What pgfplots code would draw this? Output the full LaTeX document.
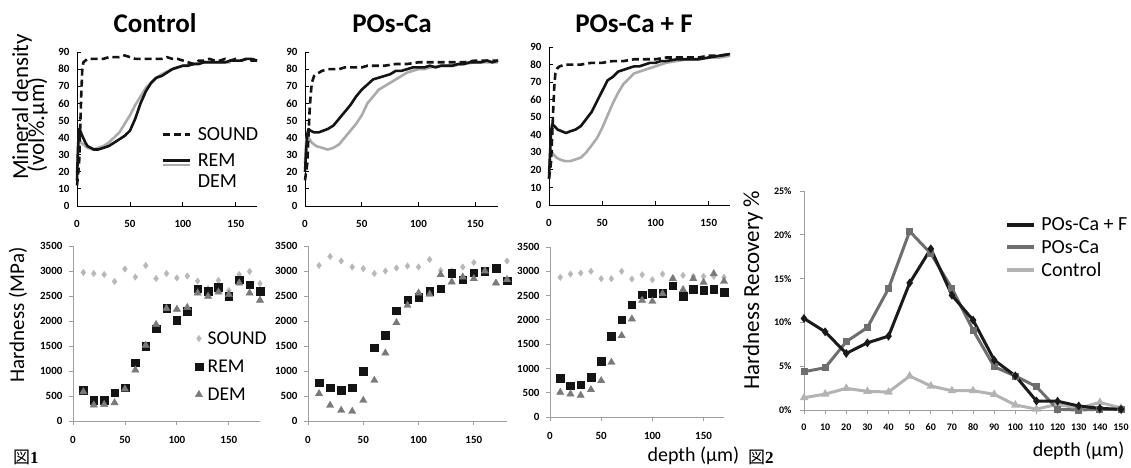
\documentclass[border=0pt]{standalone}
\usepackage{fontspec}
\setmainfont{Carlito}
\newfontfamily\cjk{Noto Sans CJK JP}
\newfontfamily\tms{Liberation Serif}
\usepackage{pgfplots}
\pgfplotsset{compat=1.18}

\newcommand{\fs}[2]{\fontsize{#1}{#2}\selectfont}

\definecolor{dk}{HTML}{141414}
\definecolor{demC}{HTML}{ABABAB}
\definecolor{diaC}{HTML}{B8B8B8}
\definecolor{triC}{HTML}{7A7A7A}
\definecolor{rA}{HTML}{1A1A1A}
\definecolor{rB}{HTML}{6E6E6E}
\definecolor{rC}{HTML}{B3B3B3}

\pgfplotsset{
  base/.style={
    scale only axis, axis lines*=left, clip=false,
    /pgf/number format/assume math mode=true,
    /pgf/number format/1000 sep={},
    ticklabel style={font=\bfseries\fs{11}{13}},
  },
  topax/.style={base,
    xmin=0, xmax=170, ymin=0, ymax=90,
    xtick={0,50,100,150}, ytick={0,10,...,90},
    tick align=inside, major tick length=4pt,
    axis line style={black, line width=0.9pt},
    tick style={black, line width=0.8pt},
    xticklabel style={yshift=-11pt},
    yticklabel style={xshift=-4pt},
  },
  botax/.style={base,
    xmin=0, ymin=0, ymax=3500,
    xtick={0,50,100,150}, ytick={0,500,...,3500},
    tick align=outside, major tick length=4pt,
    axis line style={gray!75, line width=0.9pt},
    tick style={gray!75, line width=0.8pt},
    xticklabel style={yshift=-8pt},
    yticklabel style={xshift=-3pt},
  },
  mdsound/.style={dk, line width=2.6pt, dash pattern=on 7pt off 4pt},
  mdrem/.style={dk, line width=2.6pt, line join=round},
  mddem/.style={demC, line width=2.6pt, line join=round},
  sdia/.style={only marks, mark=diamond*, mark size=3.2pt, diaC},
  srem/.style={only marks, mark=square*, mark size=3.8pt, dk},
  stri/.style={only marks, mark=triangle*, mark size=4.2pt, triC},
  linelegend/.style={legend image code/.code={\draw[##1] (0pt,0pt) -- (27pt,0pt);}},
}

\begin{document}
\begin{tikzpicture}
\path[use as bounding box] (0,0) rectangle (1131pt,-467pt);

% ---------- titles and labels ----------
\node[font=\bfseries\fs{27}{30}, anchor=base] at (155pt,-32pt) {Control};
\node[font=\bfseries\fs{27}{30}, anchor=base] at (392pt,-32pt) {POs-Ca};
\node[font=\bfseries\fs{27}{30}, anchor=base] at (634pt,-32pt) {POs-Ca + F};

\node[rotate=90, anchor=base, font=\fs{23}{26}] at (28pt,-107pt) {Mineral density};
\node[rotate=90, anchor=base, font=\fs{23}{26}] at (44pt,-125pt) {(vol\%.µm)};
\node[rotate=90, anchor=base, font=\fs{21}{24}] at (24pt,-315pt) {Hardness (MPa)};
\node[rotate=90, anchor=base, font=\fs{23}{26}] at (759pt,-290pt) {Hardness Recovery \%};

\node[anchor=base west, font=\fs{20}{24}] at (644pt,-461pt) {depth (µm)};
\node[anchor=base east, font=\fs{20}{24}] at (1128pt,-456pt) {depth (µm)};
\node[anchor=base west, inner sep=0pt, font=\fs{17}{20}] at (13pt,-463pt) {{\cjk 図}{\tms\bfseries 1}};
\node[anchor=base west, inner sep=0pt, font=\fs{17}{20}] at (748pt,-463pt) {{\cjk 図}{\tms\bfseries 2}};

% ---------- top row: mineral density ----------
\begin{axis}[topax, at={(77pt,-206pt)}, anchor=south west, width=180pt, height=154pt,
  linelegend, legend cell align=left,
  legend style={at={(0.45,0.537)}, anchor=north west, draw=none, fill=none,
    font=\fs{20}{22}, row sep=2.5pt, /tikz/every odd column/.append style={column sep=5pt}}]
\addlegendimage{dk, line width=2.6pt, dash pattern=on 7pt off 4pt}\addlegendentry{SOUND}
\addlegendimage{legend image code/.code={
  \draw[dk, line width=2.6pt] (0pt,-2.5pt) -- (27pt,-2.5pt);
  \draw[demC, line width=2pt] (0pt,-6.5pt) -- (27pt,-6.5pt);}}
\addlegendentry{\raisebox{0pt}[18pt][0pt]{REM}}
\addlegendimage{legend image code/.code={}}\addlegendentry{DEM}
\addplot[mddem] coordinates {(0,20)(1,32)(2,38)(4,37)(6,36)(10,34)(15,33)(20,34)(25,35)(30,37)(35,40)(40,43)(45,48)(50,53)(55,59)(60,64)(65,69)(70,72)(75,75)(80,77)(90,80)(100,82)(110,83)(120,84)(130,84)(140,84)(145,84)};
\addplot[mdrem] coordinates {(0,15)(1,35)(2,45)(3,44)(5,41)(8,37)(10,35)(13,34)(16,33)(20,33)(25,34)(30,35)(35,37)(40,39)(45,41)(50,44)(55,51)(60,60)(65,67)(70,72)(75,75)(80,76)(85,78)(90,80)(95,81)(100,82)(105,82)(110,83)(115,83)(120,84)(125,84)(130,84)(135,84)(140,84)(145,85)(150,85)(155,85)(160,86)(165,86)(170,85)};
\addplot[mdsound] coordinates {(0,12)(2,25)(3,45)(4,65)(5,80)(6,84)(8,85)(10,86)(15,86)(20,86)(25,86)(30,87)(35,87)(40,87)(45,88)(50,87)(55,86)(60,86)(65,86)(70,86)(75,86)(80,86)(85,87)(90,86)(95,86)(100,85)(105,84)(110,83)(115,85)(120,85)(125,86)(130,85)(135,85)(140,86)(145,85)(150,86)(155,85)(160,86)(165,85)(170,85)};
\end{axis}

\begin{axis}[topax, at={(305pt,-206pt)}, anchor=south west, width=193pt, height=154pt]
\addplot[mddem] coordinates {(0,25)(1,38)(2,41)(4,39)(6,37)(10,35)(15,34)(20,33)(25,34)(30,36)(35,40)(40,44)(45,48)(50,53)(55,60)(60,64)(65,68)(70,70)(75,72)(80,74)(85,76)(90,78)(95,79)(100,80)(105,80)(110,81)(120,82)(130,82)(140,83)(150,84)(160,84)(170,84)};
\addplot[mdrem] coordinates {(0,20)(1,32)(2,42)(3,45)(5,44)(8,43)(12,43)(16,44)(20,45)(25,47)(30,51)(35,55)(40,59)(45,64)(50,68)(55,71)(60,74)(65,75)(70,76)(75,77)(80,79)(85,79)(90,80)(95,81)(100,81)(105,81)(110,82)(115,81)(120,82)(125,82)(130,82)(135,83)(140,83)(145,84)(150,84)(155,84)(160,85)(165,84)(170,85)};
\addplot[mdsound] coordinates {(0,15)(2,25)(3,40)(4,55)(5,65)(6,72)(8,76)(10,77)(15,79)(20,80)(25,80)(30,80)(35,81)(40,81)(50,81)(55,82)(60,82)(65,82)(70,82)(80,83)(90,83)(100,84)(110,84)(120,84)(130,84)(140,84)(150,85)(160,85)(170,85)};
\end{axis}

\begin{axis}[topax, at={(549pt,-205pt)}, anchor=south west, width=181pt, height=158pt]
\addplot[mddem] coordinates {(0,20)(1,28)(2,31)(4,29)(7,27)(10,26)(15,25)(20,25)(25,26)(30,27)(35,30)(40,34)(45,38)(50,44)(55,51)(60,58)(65,64)(70,69)(75,72)(80,75)(85,76)(90,77)(100,79)(110,81)(120,82)(130,83)(140,83)(150,84)(160,84)(170,85)};
\addplot[mdrem] coordinates {(0,15)(1,30)(2,42)(3,46)(5,45)(8,43)(12,42)(16,41)(20,42)(25,43)(30,45)(35,49)(40,53)(45,59)(50,65)(55,71)(60,73)(65,76)(70,77)(75,78)(80,79)(85,79)(90,80)(95,81)(100,81)(105,82)(110,82)(120,83)(130,83)(140,83)(150,84)(160,85)(170,86)};
\addplot[mdsound] coordinates {(0,15)(2,25)(3,40)(4,55)(5,68)(6,75)(8,78)(10,79)(15,80)(20,80)(30,80)(40,81)(50,81)(60,82)(70,82)(80,83)(90,83)(100,83)(110,84)(120,84)(130,84)(140,84)(150,85)(160,85)(170,86)};
\end{axis}

% ---------- bottom row: hardness ----------
\begin{axis}[botax, at={(73pt,-421pt)}, anchor=south west, width=187pt, height=175pt, xmax=180,
  legend cell align=left,
  legend style={at={(0.636,0.536)}, anchor=north west, draw=none, fill=none,
    font=\fs{19.5}{22}, row sep=10pt, /tikz/every odd column/.append style={column sep=3pt}}]
\addplot[sdia] coordinates {(10,2970)(20,2950)(30,2930)(40,2790)(50,3040)(60,2880)(70,3110)(80,2850)(90,2950)(100,2860)(110,2900)(120,2800)(130,2650)(140,2810)(150,2610)(160,2930)(170,2990)(180,2750)};
\addlegendentry{SOUND}
\addplot[srem] coordinates {(10,620)(20,420)(30,420)(40,570)(50,665)(60,1165)(70,1500)(80,1850)(90,2260)(100,2015)(110,2195)(120,2650)(130,2595)(140,2680)(150,2495)(160,2830)(170,2730)(180,2600)};
\addlegendentry{REM}
\addplot[stri] coordinates {(10,585)(20,320)(30,330)(40,365)(50,640)(60,1020)(70,1515)(80,1930)(90,2250)(100,2235)(110,2270)(120,2560)(130,2495)(140,2580)(150,2530)(160,2760)(170,2560)(180,2415)};
\addlegendentry{DEM}
\end{axis}

\begin{axis}[botax, at={(308pt,-421pt)}, anchor=south west, width=199pt, height=175pt, xmax=180]
\addplot[sdia] coordinates {(10,3110)(20,3290)(30,3200)(40,3080)(50,3050)(60,2950)(70,3000)(80,3060)(90,3100)(100,3080)(110,3230)(120,3010)(130,3000)(140,3080)(150,3170)(160,3000)(170,3050)(180,3200)};
\addplot[srem] coordinates {(10,767)(20,667)(30,613)(40,667)(50,1000)(60,1467)(70,1713)(80,2210)(90,2427)(100,2480)(110,2593)(120,2647)(130,2960)(140,2827)(150,2967)(160,3000)(170,3060)(180,2810)};
\addplot[stri] coordinates {(10,547)(20,313)(30,213)(40,193)(50,413)(60,813)(70,1360)(80,1967)(90,2313)(100,2560)(110,2533)(120,2927)(130,2780)(140,2880)(150,2847)(160,3000)(170,2760)(180,2827)};
\end{axis}

\begin{axis}[botax, at={(550pt,-417pt)}, anchor=south west, width=174pt, height=170pt, xmax=170]
\addplot[sdia] coordinates {(10,2876)(20,2944)(30,2965)(40,3000)(50,2848)(60,2848)(70,3000)(80,2841)(90,2930)(100,2827)(110,2944)(120,2860)(130,2917)(140,2896)(150,2896)(160,2896)(170,2876)};
\addplot[srem] coordinates {(10,803)(20,645)(30,666)(40,824)(50,1146)(60,1661)(70,2004)(80,2313)(90,2519)(100,2553)(110,2553)(120,2704)(130,2484)(140,2635)(150,2615)(160,2635)(170,2574)};
\addplot[stri] coordinates {(10,508)(20,474)(30,446)(40,563)(50,748)(60,1125)(70,1675)(80,2018)(90,2402)(100,2381)(110,2539)(120,2848)(130,2622)(140,2848)(150,2773)(160,2951)(170,2793)};
\end{axis}

% ---------- right: hardness recovery ----------
\begin{axis}[base, at={(804pt,-410pt)}, anchor=south west, width=317pt, height=219pt,
  xmin=0, xmax=150, ymin=0, ymax=25,
  xtick={0,10,...,150}, ytick={0,5,...,25},
  yticklabel={\pgfmathprintnumber{\tick}\%},
  tick align=outside, major tick length=4pt,
  axis line style={gray!75, line width=0.9pt},
  tick style={gray!75, line width=0.8pt},
  ticklabel style={font=\bfseries\fs{10}{12}},
  xticklabel style={yshift=-6pt},
  yticklabel style={xshift=-5pt},
  linelegend, legend cell align=left,
  legend style={at={(0.625,0.898)}, anchor=north west, draw=none, fill=none,
    font=\fs{20}{24}, row sep=4pt, /tikz/every odd column/.append style={column sep=3pt}}]
\addlegendimage{rA, line width=4pt}\addlegendentry{POs-Ca + F}
\addlegendimage{rB, line width=4pt}\addlegendentry{POs-Ca}
\addlegendimage{rC, line width=4pt}\addlegendentry{Control}
\addplot[rC, line width=3pt, mark=triangle*, mark size=2pt] coordinates {(0,1.4)(10,1.82)(20,2.47)(30,2.13)(40,2.05)(50,3.88)(60,2.74)(70,2.2)(80,2.2)(90,1.79)(100,0.57)(110,0.11)(120,0.65)(130,0.19)(140,0.87)(150,0.23)};
\addplot[rB, line width=3pt, mark=square*, mark size=2pt] coordinates {(0,4.37)(10,4.83)(20,7.8)(30,9.42)(40,13.87)(50,20.4)(60,17.86)(70,13.87)(80,9.12)(90,4.94)(100,3.88)(110,2.66)(120,0.08)(130,0)(140,0.08)(150,0.08)};
\addplot[rA, line width=3pt, mark=diamond*, mark size=2pt] coordinates {(0,10.45)(10,8.93)(20,6.46)(30,7.67)(40,8.43)(50,14.5)(60,18.4)(70,13.1)(80,10.26)(90,5.7)(100,3.9)(110,1.03)(120,1.0)(130,0.46)(140,0.19)(150,0.08)};
\end{axis}
\end{tikzpicture}
\end{document}
